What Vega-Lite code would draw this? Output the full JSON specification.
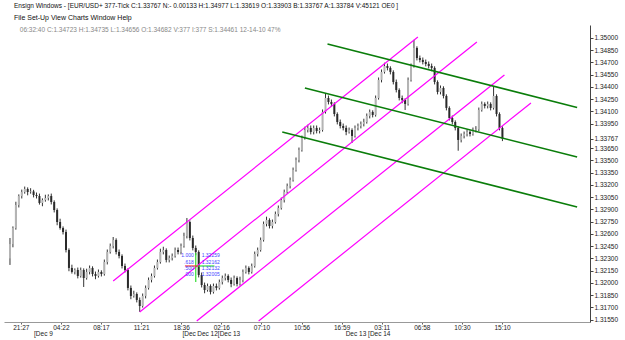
{
"$schema":"https://vega.github.io/schema/vega-lite/v6.json",
"width":586,"height":297,
"autosize":{"type":"none"},
"padding":{"left":4,"top":25,"right":35,"bottom":18},
"background":"white",
"config":{"view":{"stroke":null},"font":"Liberation Sans"},
"title":{"text":"Ensign Windows - [EUR/USD+ 377-Tick C:1.33767 N:- 0.00133 H:1.34977 L:1.33619 O:1.33903 B:1.33767 A:1.33784 V:45121 OE0 ]","subtitle":"File    Set-Up    View    Charts    Window    Help","anchor":"start","frame":"bounds","dx":10,"offset":4,"subtitlePadding":5,"fontSize":6.5,"fontWeight":"normal","color":"#111","subtitleFontSize":7,"subtitleColor":"#111"},
"resolve":{"axis":{"x":"independent"}},
"datasets":{
"bars":[
{"i":0,"o":1.323,"h":1.3255,"l":1.3222,"c":1.32476},
{"i":1,"o":1.32476,"h":1.32692,"l":1.32436,"c":1.32672},
{"i":2,"o":1.32672,"h":1.32994,"l":1.32652,"c":1.32954},
{"i":3,"o":1.32954,"h":1.33084,"l":1.32924,"c":1.33064},
{"i":4,"o":1.33064,"h":1.33143,"l":1.33034,"c":1.33113},
{"i":5,"o":1.33113,"h":1.3318,"l":1.33093,"c":1.3315},
{"i":6,"o":1.3315,"h":1.3317,"l":1.33073,"c":1.33113},
{"i":7,"o":1.33113,"h":1.3316,"l":1.33093,"c":1.3312},
{"i":8,"o":1.3312,"h":1.3314,"l":1.33047,"c":1.33077},
{"i":9,"o":1.33077,"h":1.33107,"l":1.33034,"c":1.33064},
{"i":10,"o":1.33064,"h":1.33094,"l":1.32959,"c":1.32979},
{"i":11,"o":1.32979,"h":1.33035,"l":1.32939,"c":1.33015},
{"i":12,"o":1.33015,"h":1.3308,"l":1.32995,"c":1.3304},
{"i":13,"o":1.3304,"h":1.33084,"l":1.3301,"c":1.33064},
{"i":14,"o":1.33064,"h":1.33094,"l":1.32961,"c":1.32991},
{"i":15,"o":1.32991,"h":1.33011,"l":1.32863,"c":1.32893},
{"i":16,"o":1.32893,"h":1.32913,"l":1.32706,"c":1.32746},
{"i":17,"o":1.32746,"h":1.32786,"l":1.32652,"c":1.32672},
{"i":18,"o":1.32672,"h":1.32692,"l":1.32593,"c":1.32623},
{"i":19,"o":1.32623,"h":1.32653,"l":1.32373,"c":1.32403},
{"i":20,"o":1.32403,"h":1.32423,"l":1.32143,"c":1.32183},
{"i":21,"o":1.32183,"h":1.32223,"l":1.32114,"c":1.32134},
{"i":22,"o":1.32134,"h":1.32178,"l":1.32104,"c":1.32158},
{"i":23,"o":1.32158,"h":1.32188,"l":1.32055,"c":1.32085},
{"i":24,"o":1.32085,"h":1.32188,"l":1.32065,"c":1.32158},
{"i":25,"o":1.32158,"h":1.32178,"l":1.3195,"c":1.3206},
{"i":26,"o":1.3206,"h":1.32174,"l":1.3204,"c":1.32134},
{"i":27,"o":1.32134,"h":1.32213,"l":1.32104,"c":1.32183},
{"i":28,"o":1.32183,"h":1.32203,"l":1.32079,"c":1.32109},
{"i":29,"o":1.32109,"h":1.32139,"l":1.32045,"c":1.32085},
{"i":30,"o":1.32085,"h":1.32164,"l":1.32065,"c":1.32134},
{"i":31,"o":1.32134,"h":1.32154,"l":1.32079,"c":1.32109},
{"i":32,"o":1.32109,"h":1.32286,"l":1.32089,"c":1.32256},
{"i":33,"o":1.32256,"h":1.32409,"l":1.32226,"c":1.32379},
{"i":34,"o":1.32379,"h":1.32482,"l":1.32359,"c":1.32452},
{"i":35,"o":1.32452,"h":1.32562,"l":1.32422,"c":1.32526},
{"i":36,"o":1.32526,"h":1.32546,"l":1.32349,"c":1.32379},
{"i":37,"o":1.32379,"h":1.32409,"l":1.323,"c":1.3233},
{"i":38,"o":1.3233,"h":1.3235,"l":1.32177,"c":1.32207},
{"i":39,"o":1.32207,"h":1.32237,"l":1.32128,"c":1.32158},
{"i":40,"o":1.32158,"h":1.32178,"l":1.31908,"c":1.31938},
{"i":41,"o":1.31938,"h":1.31968,"l":1.318,"c":1.3184},
{"i":42,"o":1.3184,"h":1.31904,"l":1.3182,"c":1.31864},
{"i":43,"o":1.31864,"h":1.31884,"l":1.31761,"c":1.31791},
{"i":44,"o":1.31791,"h":1.31821,"l":1.31645,"c":1.31717},
{"i":45,"o":1.31717,"h":1.3187,"l":1.31697,"c":1.3184},
{"i":46,"o":1.3184,"h":1.31968,"l":1.3181,"c":1.31938},
{"i":47,"o":1.31938,"h":1.32066,"l":1.31918,"c":1.32036},
{"i":48,"o":1.32036,"h":1.32115,"l":1.32006,"c":1.32085},
{"i":49,"o":1.32085,"h":1.32213,"l":1.32065,"c":1.32183},
{"i":50,"o":1.32183,"h":1.32286,"l":1.32163,"c":1.32256},
{"i":51,"o":1.32256,"h":1.32419,"l":1.32236,"c":1.32379},
{"i":52,"o":1.32379,"h":1.32443,"l":1.32349,"c":1.32403},
{"i":53,"o":1.32403,"h":1.32423,"l":1.32251,"c":1.32281},
{"i":54,"o":1.32281,"h":1.32335,"l":1.32251,"c":1.32305},
{"i":55,"o":1.32305,"h":1.3236,"l":1.32275,"c":1.3233},
{"i":56,"o":1.3233,"h":1.32433,"l":1.3231,"c":1.32403},
{"i":57,"o":1.32403,"h":1.32433,"l":1.32349,"c":1.32379},
{"i":58,"o":1.32379,"h":1.32482,"l":1.32349,"c":1.32452},
{"i":59,"o":1.32452,"h":1.32615,"l":1.32432,"c":1.32575},
{"i":60,"o":1.32575,"h":1.32795,"l":1.32545,"c":1.32746},
{"i":61,"o":1.32746,"h":1.32766,"l":1.3252,"c":1.3255},
{"i":62,"o":1.3255,"h":1.3258,"l":1.32398,"c":1.32428},
{"i":63,"o":1.32428,"h":1.32458,"l":1.32339,"c":1.32379},
{"i":64,"o":1.32379,"h":1.32399,"l":1.32067,"c":1.32097},
{"i":65,"o":1.32097,"h":1.32127,"l":1.31944,"c":1.31974},
{"i":66,"o":1.31974,"h":1.32004,"l":1.31873,"c":1.31913},
{"i":67,"o":1.31913,"h":1.31992,"l":1.31893,"c":1.31962},
{"i":68,"o":1.31962,"h":1.31982,"l":1.31859,"c":1.31889},
{"i":69,"o":1.31889,"h":1.31992,"l":1.31869,"c":1.31962},
{"i":70,"o":1.31962,"h":1.31992,"l":1.31908,"c":1.31938},
{"i":71,"o":1.31938,"h":1.32041,"l":1.31918,"c":1.32011},
{"i":72,"o":1.32011,"h":1.3209,"l":1.31981,"c":1.3206},
{"i":73,"o":1.3206,"h":1.32115,"l":1.3203,"c":1.32085},
{"i":74,"o":1.32085,"h":1.32105,"l":1.32006,"c":1.32036},
{"i":75,"o":1.32036,"h":1.32066,"l":1.31947,"c":1.31987},
{"i":76,"o":1.31987,"h":1.3209,"l":1.31967,"c":1.3206},
{"i":77,"o":1.3206,"h":1.3208,"l":1.31957,"c":1.31987},
{"i":78,"o":1.31987,"h":1.32076,"l":1.31967,"c":1.32036},
{"i":79,"o":1.32036,"h":1.32164,"l":1.32006,"c":1.32134},
{"i":80,"o":1.32134,"h":1.32213,"l":1.32114,"c":1.32183},
{"i":81,"o":1.32183,"h":1.32203,"l":1.32104,"c":1.32134},
{"i":82,"o":1.32134,"h":1.32237,"l":1.32114,"c":1.32207},
{"i":83,"o":1.32207,"h":1.32384,"l":1.32187,"c":1.32354},
{"i":84,"o":1.32354,"h":1.32433,"l":1.32324,"c":1.32403},
{"i":85,"o":1.32403,"h":1.32556,"l":1.32383,"c":1.32526},
{"i":86,"o":1.32526,"h":1.32752,"l":1.32506,"c":1.32722},
{"i":87,"o":1.32722,"h":1.32811,"l":1.32692,"c":1.32771},
{"i":88,"o":1.32771,"h":1.32791,"l":1.32667,"c":1.32697},
{"i":89,"o":1.32697,"h":1.32776,"l":1.32667,"c":1.32746},
{"i":90,"o":1.32746,"h":1.32874,"l":1.32726,"c":1.32844},
{"i":91,"o":1.32844,"h":1.32948,"l":1.32814,"c":1.32918},
{"i":92,"o":1.32918,"h":1.33045,"l":1.32898,"c":1.33015},
{"i":93,"o":1.33015,"h":1.33143,"l":1.32985,"c":1.33113},
{"i":94,"o":1.33113,"h":1.33217,"l":1.33093,"c":1.33187},
{"i":95,"o":1.33187,"h":1.33291,"l":1.33157,"c":1.33261},
{"i":96,"o":1.33261,"h":1.33413,"l":1.33241,"c":1.33383},
{"i":97,"o":1.33383,"h":1.33536,"l":1.33363,"c":1.33506},
{"i":98,"o":1.33506,"h":1.33658,"l":1.33476,"c":1.33628},
{"i":99,"o":1.33628,"h":1.33805,"l":1.33608,"c":1.33775},
{"i":100,"o":1.33775,"h":1.33913,"l":1.33755,"c":1.33873},
{"i":101,"o":1.33873,"h":1.33938,"l":1.33843,"c":1.33898},
{"i":102,"o":1.33898,"h":1.33928,"l":1.33819,"c":1.33849},
{"i":103,"o":1.33849,"h":1.33928,"l":1.33819,"c":1.33898},
{"i":104,"o":1.33898,"h":1.33928,"l":1.33831,"c":1.33861},
{"i":105,"o":1.33861,"h":1.33903,"l":1.33831,"c":1.33873},
{"i":106,"o":1.33873,"h":1.34124,"l":1.33853,"c":1.34094},
{"i":107,"o":1.34094,"h":1.34326,"l":1.34074,"c":1.34265},
{"i":108,"o":1.34265,"h":1.34295,"l":1.34186,"c":1.34216},
{"i":109,"o":1.34216,"h":1.34246,"l":1.34162,"c":1.34192},
{"i":110,"o":1.34192,"h":1.34212,"l":1.34039,"c":1.34069},
{"i":111,"o":1.34069,"h":1.34089,"l":1.33941,"c":1.33971},
{"i":112,"o":1.33971,"h":1.34001,"l":1.33892,"c":1.33922},
{"i":113,"o":1.33922,"h":1.33952,"l":1.33868,"c":1.33898},
{"i":114,"o":1.33898,"h":1.33928,"l":1.33809,"c":1.33849},
{"i":115,"o":1.33849,"h":1.33903,"l":1.33829,"c":1.33873},
{"i":116,"o":1.33873,"h":1.33893,"l":1.33714,"c":1.338},
{"i":117,"o":1.338,"h":1.33928,"l":1.3378,"c":1.33898},
{"i":118,"o":1.33898,"h":1.33952,"l":1.33868,"c":1.33922},
{"i":119,"o":1.33922,"h":1.33977,"l":1.33892,"c":1.33947},
{"i":120,"o":1.33947,"h":1.34011,"l":1.33917,"c":1.33971},
{"i":121,"o":1.33971,"h":1.34075,"l":1.33951,"c":1.34045},
{"i":122,"o":1.34045,"h":1.34124,"l":1.34015,"c":1.34094},
{"i":123,"o":1.34094,"h":1.34114,"l":1.34027,"c":1.34057},
{"i":124,"o":1.34057,"h":1.34295,"l":1.34037,"c":1.34265},
{"i":125,"o":1.34265,"h":1.34516,"l":1.34245,"c":1.34486},
{"i":126,"o":1.34486,"h":1.34614,"l":1.34456,"c":1.34584},
{"i":127,"o":1.34584,"h":1.34697,"l":1.34564,"c":1.34657},
{"i":128,"o":1.34657,"h":1.34687,"l":1.34603,"c":1.34633},
{"i":129,"o":1.34633,"h":1.34653,"l":1.34554,"c":1.34584},
{"i":130,"o":1.34584,"h":1.34604,"l":1.34431,"c":1.34461},
{"i":131,"o":1.34461,"h":1.34491,"l":1.34333,"c":1.34363},
{"i":132,"o":1.34363,"h":1.34383,"l":1.34235,"c":1.34265},
{"i":133,"o":1.34265,"h":1.34295,"l":1.34201,"c":1.34241},
{"i":134,"o":1.34241,"h":1.34261,"l":1.34118,"c":1.34192},
{"i":135,"o":1.34192,"h":1.34516,"l":1.34172,"c":1.34486},
{"i":136,"o":1.34486,"h":1.34687,"l":1.34466,"c":1.34657},
{"i":137,"o":1.34657,"h":1.34977,"l":1.34637,"c":1.34878},
{"i":138,"o":1.34878,"h":1.34898,"l":1.34725,"c":1.34755},
{"i":139,"o":1.34755,"h":1.34785,"l":1.34701,"c":1.34731},
{"i":140,"o":1.34731,"h":1.34761,"l":1.34676,"c":1.34706},
{"i":141,"o":1.34706,"h":1.34736,"l":1.34652,"c":1.34682},
{"i":142,"o":1.34682,"h":1.34712,"l":1.34627,"c":1.34657},
{"i":143,"o":1.34657,"h":1.34687,"l":1.34593,"c":1.34633},
{"i":144,"o":1.34633,"h":1.34653,"l":1.34431,"c":1.34461},
{"i":145,"o":1.34461,"h":1.34481,"l":1.34309,"c":1.34339},
{"i":146,"o":1.34339,"h":1.34418,"l":1.34309,"c":1.34388},
{"i":147,"o":1.34388,"h":1.34408,"l":1.3426,"c":1.3429},
{"i":148,"o":1.3429,"h":1.3431,"l":1.34113,"c":1.34143},
{"i":149,"o":1.34143,"h":1.34163,"l":1.3399,"c":1.3402},
{"i":150,"o":1.3402,"h":1.3405,"l":1.33941,"c":1.33971},
{"i":151,"o":1.33971,"h":1.33991,"l":1.33868,"c":1.33898},
{"i":152,"o":1.33898,"h":1.33918,"l":1.33619,"c":1.33751},
{"i":153,"o":1.33751,"h":1.3383,"l":1.33721,"c":1.338},
{"i":154,"o":1.338,"h":1.33854,"l":1.3377,"c":1.33824},
{"i":155,"o":1.33824,"h":1.33879,"l":1.33794,"c":1.33849},
{"i":156,"o":1.33849,"h":1.33869,"l":1.33794,"c":1.33824},
{"i":157,"o":1.33824,"h":1.33903,"l":1.33804,"c":1.33873},
{"i":158,"o":1.33873,"h":1.3392,"l":1.33843,"c":1.3388},
{"i":159,"o":1.3388,"h":1.34148,"l":1.3386,"c":1.34118},
{"i":160,"o":1.34118,"h":1.34222,"l":1.34098,"c":1.34192},
{"i":161,"o":1.34192,"h":1.34212,"l":1.34137,"c":1.34167},
{"i":162,"o":1.34167,"h":1.34222,"l":1.34137,"c":1.34192},
{"i":163,"o":1.34192,"h":1.34212,"l":1.34113,"c":1.34143},
{"i":164,"o":1.34143,"h":1.344,"l":1.34123,"c":1.3429},
{"i":165,"o":1.3429,"h":1.3431,"l":1.34039,"c":1.34069},
{"i":166,"o":1.34069,"h":1.34089,"l":1.33868,"c":1.33898},
{"i":167,"o":1.33898,"h":1.33918,"l":1.33737,"c":1.33767}
],
"magenta":[
{"id":"m1","i":35,"p":1.32023},{"id":"m1","i":138.33,"p":1.35012},
{"id":"m2","i":44,"p":1.31644},{"id":"m2","i":158.33,"p":1.34951},
{"id":"m3","i":63.33,"p":1.31533},{"id":"m3","i":167.67,"p":1.34547},
{"id":"m4","i":84.33,"p":1.31533},{"id":"m4","i":176.67,"p":1.34204}
],
"green":[
{"id":"g1","i":107.67,"p":1.34927},{"id":"g1","i":192.33,"p":1.34149},
{"id":"g2","i":100,"p":1.34388},{"id":"g2","i":192.33,"p":1.33542},
{"id":"g3","i":92.33,"p":1.33849},{"id":"g3","i":192.33,"p":1.3293}
],
"fibGreen":[
{"i":63,"p":1.32366,"i2":63,"p2":1.32011},
{"i":63.67,"p":1.32207,"i2":69.33,"p2":1.32207}
],
"fibRed":[
{"i":59.33,"p":1.32207,"i2":63.67,"p2":1.32207}
],
"fibRatio":[
{"i":62.33,"p":1.32342,"t":"1.000"},
{"i":62.33,"p":1.32262,"t":".618"},
{"i":62.33,"p":1.32183,"t":".500"},
{"i":62.33,"p":1.32103,"t":".000"}
],
"fibPrice":[
{"i":65,"p":1.32342,"t":"1.32259"},
{"i":65,"p":1.32262,"t":"1.32162"},
{"i":65,"p":1.32183,"t":"1.32132"},
{"i":65,"p":1.32103,"t":"1.32005"}
],
"status":[
{"i":3.33,"p":1.35098,"t":"06:32:40    C:1.34723    H:1.34735    L:1.34656    O:1.34682    V:377    I:377    S:1.34461    12-14-10    47%"}
]
},
"layer":[
{"data":{"name":"bars"},"mark":{"type":"rule","strokeWidth":1,"color":"#333333"},
"encoding":{
"x":{"field":"i","type":"quantitative","scale":{"domain":[-0.33,195],"nice":false,"zero":false},
"axis":{"orient":"bottom","values":[3.67,17.27,30.87,44.47,58.07,71.67,85.27,98.87,112.47,126.07,139.67,153.27,166.87],"labelExpr":"['21:27','04:22','08:17','11:21','18:36','02:16','07:10','10:56','16:59','03:11','06:58','10:30','15:10'][round((datum.value-3.67)/13.6)]","title":null,"grid":false,"tickSize":2,"labelPadding":0,"labelFontSize":6.5,"labelColor":"#222","domainColor":"#999","tickColor":"#666","labelOverlap":false,"labelFlush":false}},
"y":{"field":"l","type":"quantitative","scale":{"domain":[1.31521,1.35159],"nice":false,"zero":false},
"axis":{"orient":"right","values":[1.3155,1.317,1.3185,1.32,1.3215,1.323,1.3245,1.326,1.3275,1.329,1.3305,1.332,1.3335,1.335,1.3365,1.33767,1.3395,1.341,1.3425,1.344,1.3455,1.347,1.3485,1.35],"format":".5f","title":null,"grid":false,"tickSize":3,"labelFontSize":6.5,"labelPadding":1,"labelColor":"#222","domainColor":"#444","tickColor":"#444","labelOverlap":false,"labelFlush":false}},
"y2":{"field":"h"}}},
{"data":{"name":"bars"},"mark":{"type":"bar","width":2},
"encoding":{
"x":{"field":"i","type":"quantitative","scale":{"domain":[-0.33,195],"nice":false,"zero":false},
"axis":{"orient":"bottom","values":[8,58.33,63.33,113.67],"labelExpr":"['[Dec 9','[Dec','Dec 12[Dec 13','Dec 13 [Dec 14'][indexof([8,58.33,63.33,113.67],datum.value)]","title":null,"grid":false,"domain":false,"ticks":false,"labelPadding":8,"labelAlign":"left","labelFontSize":6.5,"labelColor":"#222","labelOverlap":false,"labelFlush":false}},
"y":{"field":"o","type":"quantitative","scale":{"domain":[1.31521,1.35159],"nice":false,"zero":false},
"axis":{"orient":"right","values":[1.3155,1.317,1.3185,1.32,1.3215,1.323,1.3245,1.326,1.3275,1.329,1.3305,1.332,1.3335,1.335,1.3365,1.33767,1.3395,1.341,1.3425,1.344,1.3455,1.347,1.3485,1.35],"format":".5f","title":null,"grid":false,"tickSize":3,"labelFontSize":6.5,"labelPadding":1,"labelColor":"#222","domainColor":"#444","tickColor":"#444","labelOverlap":false,"labelFlush":false}},
"y2":{"field":"c"},
"color":{"condition":{"test":"datum.c >= datum.o","value":"#b4b4b4"},"value":"#2a2a2a"}}},
{"data":{"name":"magenta"},"mark":{"type":"line","color":"#ff00ff","strokeWidth":1.2,"clip":true},
"encoding":{"x":{"field":"i","type":"quantitative","scale":{"domain":[-0.33,195],"nice":false,"zero":false},"axis":null},
"y":{"field":"p","type":"quantitative","scale":{"domain":[1.31521,1.35159],"nice":false,"zero":false},
"axis":{"orient":"right","values":[1.3155,1.317,1.3185,1.32,1.3215,1.323,1.3245,1.326,1.3275,1.329,1.3305,1.332,1.3335,1.335,1.3365,1.33767,1.3395,1.341,1.3425,1.344,1.3455,1.347,1.3485,1.35],"format":".5f","title":null,"grid":false,"tickSize":3,"labelFontSize":6.5,"labelPadding":1,"labelColor":"#222","domainColor":"#444","tickColor":"#444","labelOverlap":false,"labelFlush":false}},
"detail":{"field":"id"}}},
{"data":{"name":"green"},"mark":{"type":"line","color":"#0a7d0a","strokeWidth":1.5,"clip":true},
"encoding":{"x":{"field":"i","type":"quantitative","scale":{"domain":[-0.33,195],"nice":false,"zero":false},"axis":null},
"y":{"field":"p","type":"quantitative","scale":{"domain":[1.31521,1.35159],"nice":false,"zero":false},
"axis":{"orient":"right","values":[1.3155,1.317,1.3185,1.32,1.3215,1.323,1.3245,1.326,1.3275,1.329,1.3305,1.332,1.3335,1.335,1.3365,1.33767,1.3395,1.341,1.3425,1.344,1.3455,1.347,1.3485,1.35],"format":".5f","title":null,"grid":false,"tickSize":3,"labelFontSize":6.5,"labelPadding":1,"labelColor":"#222","domainColor":"#444","tickColor":"#444","labelOverlap":false,"labelFlush":false}},
"detail":{"field":"id"}}},
{"data":{"name":"fibGreen"},"mark":{"type":"rule","color":"#33dd33","strokeWidth":1.2},
"encoding":{"x":{"field":"i","type":"quantitative","scale":{"domain":[-0.33,195],"nice":false,"zero":false},"axis":null},"x2":{"field":"i2"},
"y":{"field":"p","type":"quantitative","scale":{"domain":[1.31521,1.35159],"nice":false,"zero":false},
"axis":{"orient":"right","values":[1.3155,1.317,1.3185,1.32,1.3215,1.323,1.3245,1.326,1.3275,1.329,1.3305,1.332,1.3335,1.335,1.3365,1.33767,1.3395,1.341,1.3425,1.344,1.3455,1.347,1.3485,1.35],"format":".5f","title":null,"grid":false,"tickSize":3,"labelFontSize":6.5,"labelPadding":1,"labelColor":"#222","domainColor":"#444","tickColor":"#444","labelOverlap":false,"labelFlush":false}},"y2":{"field":"p2"}}},
{"data":{"name":"fibRed"},"mark":{"type":"rule","color":"#ee3333","strokeWidth":1.2},
"encoding":{"x":{"field":"i","type":"quantitative","scale":{"domain":[-0.33,195],"nice":false,"zero":false},"axis":null},"x2":{"field":"i2"},
"y":{"field":"p","type":"quantitative","scale":{"domain":[1.31521,1.35159],"nice":false,"zero":false},
"axis":{"orient":"right","values":[1.3155,1.317,1.3185,1.32,1.3215,1.323,1.3245,1.326,1.3275,1.329,1.3305,1.332,1.3335,1.335,1.3365,1.33767,1.3395,1.341,1.3425,1.344,1.3455,1.347,1.3485,1.35],"format":".5f","title":null,"grid":false,"tickSize":3,"labelFontSize":6.5,"labelPadding":1,"labelColor":"#222","domainColor":"#444","tickColor":"#444","labelOverlap":false,"labelFlush":false}},"y2":{"field":"p2"}}},
{"data":{"name":"fibRatio"},"mark":{"type":"text","align":"right","baseline":"middle","fontSize":5,"color":"#4444ff"},
"encoding":{"x":{"field":"i","type":"quantitative","scale":{"domain":[-0.33,195],"nice":false,"zero":false},"axis":null},
"y":{"field":"p","type":"quantitative","scale":{"domain":[1.31521,1.35159],"nice":false,"zero":false},
"axis":{"orient":"right","values":[1.3155,1.317,1.3185,1.32,1.3215,1.323,1.3245,1.326,1.3275,1.329,1.3305,1.332,1.3335,1.335,1.3365,1.33767,1.3395,1.341,1.3425,1.344,1.3455,1.347,1.3485,1.35],"format":".5f","title":null,"grid":false,"tickSize":3,"labelFontSize":6.5,"labelPadding":1,"labelColor":"#222","domainColor":"#444","tickColor":"#444","labelOverlap":false,"labelFlush":false}},"text":{"field":"t"}}},
{"data":{"name":"fibPrice"},"mark":{"type":"text","align":"left","baseline":"middle","fontSize":5,"color":"#4444ff"},
"encoding":{"x":{"field":"i","type":"quantitative","scale":{"domain":[-0.33,195],"nice":false,"zero":false},"axis":null},
"y":{"field":"p","type":"quantitative","scale":{"domain":[1.31521,1.35159],"nice":false,"zero":false},
"axis":{"orient":"right","values":[1.3155,1.317,1.3185,1.32,1.3215,1.323,1.3245,1.326,1.3275,1.329,1.3305,1.332,1.3335,1.335,1.3365,1.33767,1.3395,1.341,1.3425,1.344,1.3455,1.347,1.3485,1.35],"format":".5f","title":null,"grid":false,"tickSize":3,"labelFontSize":6.5,"labelPadding":1,"labelColor":"#222","domainColor":"#444","tickColor":"#444","labelOverlap":false,"labelFlush":false}},"text":{"field":"t"}}},
{"data":{"name":"status"},"mark":{"type":"text","align":"left","baseline":"middle","fontSize":6.5,"color":"#888888"},
"encoding":{"x":{"field":"i","type":"quantitative","scale":{"domain":[-0.33,195],"nice":false,"zero":false},"axis":null},
"y":{"field":"p","type":"quantitative","scale":{"domain":[1.31521,1.35159],"nice":false,"zero":false},
"axis":{"orient":"right","values":[1.3155,1.317,1.3185,1.32,1.3215,1.323,1.3245,1.326,1.3275,1.329,1.3305,1.332,1.3335,1.335,1.3365,1.33767,1.3395,1.341,1.3425,1.344,1.3455,1.347,1.3485,1.35],"format":".5f","title":null,"grid":false,"tickSize":3,"labelFontSize":6.5,"labelPadding":1,"labelColor":"#222","domainColor":"#444","tickColor":"#444","labelOverlap":false,"labelFlush":false}},"text":{"field":"t"}}}
]
}
